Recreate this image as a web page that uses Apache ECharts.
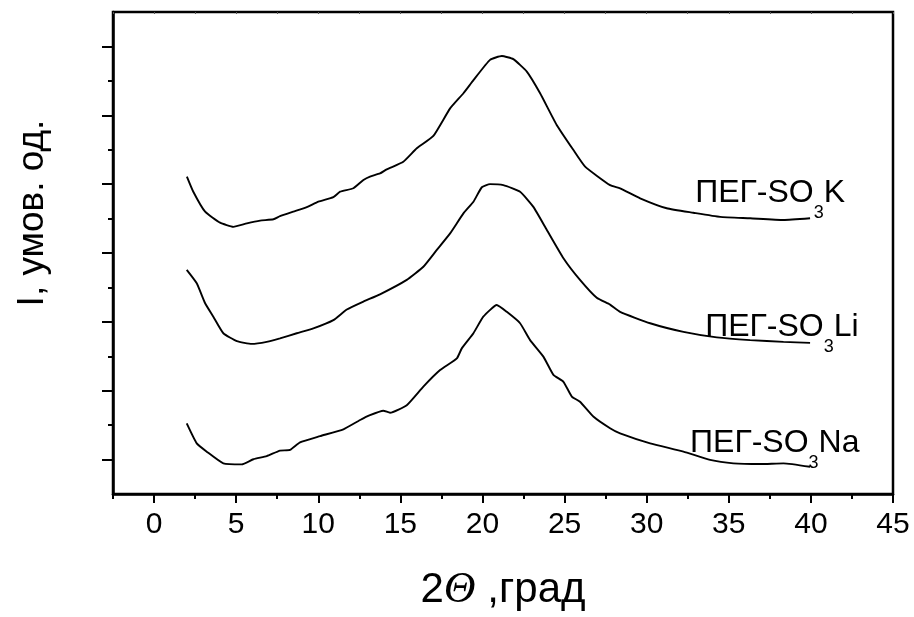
<!DOCTYPE html>
<html>
<head>
<meta charset="utf-8">
<script src="https://cdn.jsdelivr.net/npm/echarts@6/dist/echarts.min.js"></script>
<style>
  html, body { margin: 0; padding: 0; background: #fff; }
  #chart { width: 914px; height: 617px; }
</style>
</head>
<body>
<div id="chart"></div>
<script>
// 2Θ (град) / intensity (умов. од.)
var kData = [
  [2.0, 9.22], [2.39, 8.78], [3.11, 8.20], [4.02, 7.88], [4.83, 7.76], [5.65, 7.86],
  [6.46, 7.94], [7.27, 7.98], [7.67, 8.07], [8.48, 8.20], [9.30, 8.33], [10.01, 8.49],
  [10.92, 8.62], [11.33, 8.78], [12.14, 8.88], [12.75, 9.12], [13.15, 9.22], [13.76, 9.31],
  [14.17, 9.43], [15.18, 9.65], [16.0, 10.04], [17.01, 10.40], [18.03, 11.20], [18.84, 11.64],
  [19.45, 12.02], [20.46, 12.61], [21.18, 12.72], [21.88, 12.63], [22.70, 12.27], [23.51, 11.64],
  [24.52, 10.72], [25.54, 9.99], [26.25, 9.51], [27.77, 8.97], [28.38, 8.88], [29.6, 8.59],
  [31.22, 8.30], [32.84, 8.17], [34.47, 8.05], [36.3, 8.01], [38.33, 7.96], [39.95, 8.01]
];
var liData = [
  [1.99, 6.51], [2.60, 6.12], [3.11, 5.54], [3.61, 5.15], [4.22, 4.67], [5.04, 4.44],
  [5.95, 4.36], [6.86, 4.42], [7.67, 4.52], [8.69, 4.67], [9.70, 4.81], [10.92, 5.05],
  [11.74, 5.36], [12.75, 5.59], [13.76, 5.80], [15.39, 6.22], [16.40, 6.60], [17.22, 7.09],
  [18.03, 7.57], [18.84, 8.15], [19.45, 8.49], [19.96, 8.91], [20.46, 9.00], [21.27, 8.97],
  [22.29, 8.78], [23.10, 8.34], [23.92, 7.67], [24.93, 6.85], [25.94, 6.22], [26.96, 5.70],
  [27.77, 5.50], [28.38, 5.29], [30.21, 4.96], [32.24, 4.71], [34.27, 4.55], [36.3, 4.47],
  [38.33, 4.42], [39.95, 4.39]
];
var naData = [
  [1.99, 2.05], [2.60, 1.47], [3.21, 1.23], [4.22, 0.89], [5.34, 0.86], [6.05, 1.01],
  [6.86, 1.10], [7.67, 1.26], [8.28, 1.28], [8.89, 1.50], [10.11, 1.68], [11.53, 1.88],
  [12.55, 2.15], [13.15, 2.29], [13.96, 2.42], [14.37, 2.36], [15.39, 2.58], [16.40, 3.12],
  [17.42, 3.60], [18.44, 3.94], [18.74, 4.23], [19.45, 4.67], [20.05, 5.15], [20.87, 5.49],
  [21.48, 5.29], [22.29, 4.96], [22.90, 4.47], [23.71, 3.99], [24.32, 3.46], [24.93, 3.26],
  [25.44, 2.83], [25.94, 2.68], [26.75, 2.25], [27.77, 1.91], [28.38, 1.76], [30.21, 1.47],
  [32.24, 1.23], [33.86, 0.99], [35.28, 0.89], [36.91, 0.87], [38.33, 0.89], [39.95, 0.79]
];
var seriesNames = ['ПЕГ-SO3K', 'ПЕГ-SO3Li', 'ПЕГ-SO3Na'];
var cations = ['K', 'Li', 'Na'];
var xMajor = [0, 5, 10, 15, 20, 25, 30, 35, 40, 45];
var xMinor = [-2.5, 2.5, 7.5, 12.5, 17.5, 22.5, 27.5, 32.5, 37.5, 42.5];
var xAll = xMinor.concat(xMajor);
var yMajor = [1, 3, 5, 7, 9, 11, 13];
var yMinor = [2, 4, 6, 8, 10, 12];

var font = 'Liberation Sans, Arial, sans-serif';
// where each label sits (data coords of its left-middle point)
var labelAt = [[32.95, 8.73], [33.56, 4.86], [32.64, 1.48]];

function seriesOf(name, data, i) {
  return {
    name: name,
    type: 'line',
    data: data,
    showSymbol: false,
    smooth: 0.15,
    lineStyle: { color: '#000', width: 1.9 },
    markPoint: {
      silent: true,
      symbol: 'circle',
      symbolSize: 0,
      label: {
        show: true,
        position: 'right',
        distance: 0,
        formatter: '{a|ПЕГ-SO}{s|3}{a|' + cations[i] + '}',
        rich: {
          a: { fontFamily: font, fontSize: 32, color: '#000', lineHeight: 58, verticalAlign: 'middle' },
          s: { fontFamily: font, fontSize: 18, color: '#000', lineHeight: 58, verticalAlign: 'bottom' }
        }
      },
      data: [{ coord: labelAt[i] }]
    }
  };
}

var chart = echarts.init(document.getElementById('chart'), null, { renderer: 'canvas' });
chart.setOption({
  animation: false,
  backgroundColor: '#fff',
  grid: { left: 113, right: 21, top: 12, bottom: 123, show: true, borderColor: '#000', borderWidth: 2.5 },
  xAxis: [
    {
      type: 'value', min: -2.5, max: 45, position: 'bottom',
      axisLine: { show: true, onZero: false, lineStyle: { color: '#000', width: 2.5 } },
      axisTick: { show: true, customValues: xMajor, length: 9, lineStyle: { color: '#000', width: 2 } },
      axisLabel: { show: true, customValues: xMajor, margin: 16, fontFamily: font, fontSize: 30, color: '#000' },
      splitLine: { show: false },
      name: '{n|2}{i|Θ}{n| ,град}',
      nameLocation: 'middle',
      nameGap: 74,
      nameTextStyle: {
        rich: {
          n: { fontFamily: font, fontSize: 42, color: '#000' },
          i: { fontFamily: 'Liberation Serif, serif', fontStyle: 'italic', fontSize: 44, color: '#000' }
        }
      }
    },
    {
      type: 'value', min: -2.5, max: 45, position: 'bottom',
      axisLine: { show: false, onZero: false },
      axisTick: { show: true, customValues: xMinor, length: 5, lineStyle: { color: '#000', width: 2 } },
      axisLabel: { show: false },
      splitLine: { show: false }
    },
    {
      type: 'value', min: -2.5, max: 45, position: 'top',
      axisLine: { show: false, onZero: false },
      axisTick: { show: true, inside: true, customValues: xAll, length: 2, lineStyle: { color: '#555', width: 1 } },
      axisLabel: { show: false },
      splitLine: { show: false }
    }
  ],
  yAxis: [
    {
      type: 'value', min: 0, max: 14, position: 'left',
      axisLine: { show: true, onZero: false, lineStyle: { color: '#000', width: 2.5 } },
      axisTick: { show: true, customValues: yMajor, length: 11, lineStyle: { color: '#000', width: 2 } },
      axisLabel: { show: false },
      splitLine: { show: false }
    },
    {
      type: 'value', min: 0, max: 14, position: 'left',
      axisLine: { show: false, onZero: false },
      axisTick: { show: true, customValues: yMinor, length: 5, lineStyle: { color: '#000', width: 2 } },
      axisLabel: { show: false },
      splitLine: { show: false }
    }
  ],
  graphic: [
    {
      type: 'text',
      x: 33, y: 213,
      rotation: Math.PI / 2,
      style: {
        text: 'I, умов. од.',
        fontFamily: font, fontSize: 37, fill: '#000',
        align: 'center', verticalAlign: 'middle'
      }
    }
  ],
  series: [
    seriesOf(seriesNames[0], kData, 0),
    seriesOf(seriesNames[1], liData, 1),
    seriesOf(seriesNames[2], naData, 2)
  ]
});
</script>
</body>
</html>
